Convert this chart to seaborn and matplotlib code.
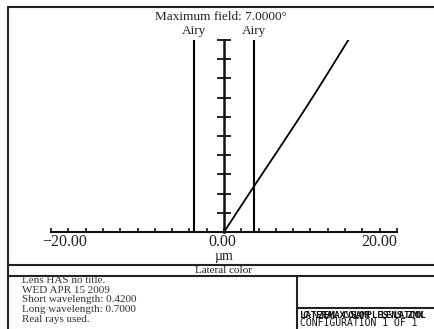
import numpy as np
import matplotlib
matplotlib.use("Agg")
import matplotlib.pyplot as plt
import seaborn as sns

# lateral color vs field
field_deg = [0.0, 0.7, 1.4, 2.1, 2.8, 3.5, 4.2, 4.9, 5.6, 6.3, 7.0]
lateral_um = [0.0, 1.45, 2.91, 4.38, 5.86, 7.33, 8.79, 10.22, 11.62, 13.0, 14.37]
airy_um = 3.45
field_max = 7.0
x_major = [-20, 0, 20]
x_labels = ["\u221220.00", "0.00", "20.00"]
info_lines = [
    "Lens HAS no title.",
    "WED APR 15 2009",
    "Short wavelength: 0.4200",
    "Long wavelength: 0.7000",
    "Real rays used.",
]

sns.set_theme(style="white")
plt.rcParams["font.family"] = ["Liberation Serif", "DejaVu Serif"]

W, H = 435, 329
fig = plt.figure(figsize=(W / 100, H / 100), dpi=100)
fig.patch.set_facecolor("white")

# background layer in pixel coords for the frame and text blocks
bg = fig.add_axes([0, 0, 1, 1])
bg.set_xlim(0, W)
bg.set_ylim(H, 0)
bg.axis("off")
lw = 1.5
bg.plot([8, W], [7, 7], color="#222", lw=lw)
bg.plot([8, 8], [7, H], color="#222", lw=lw)
bg.plot([8, W], [265, 265], color="#222", lw=lw)
bg.plot([8, W], [276, 276], color="#222", lw=lw)
bg.plot([297, 297], [276, H], color="#222", lw=lw)
bg.plot([297, W], [308, 308], color="#222", lw=lw)

bg.text(221, 17, f"Maximum field: {field_max:.4f}\u00b0", ha="center", va="center",
        fontsize=9.5, color="#222")
bg.text(224, 270.5, "Lateral color", ha="center", va="center", fontsize=8, color="#222")
for i, line in enumerate(info_lines):
    bg.text(22, 280.5 + i * 9.7, line, ha="left", va="center", fontsize=8, color="#333")
# overprinted file/plot name line, as in the original stroke-font output
bg.text(300, 315, "LATERAL COLOR  LENS.ZMX", ha="left", va="center",
        fontsize=6.5, family="DejaVu Sans Mono", weight="bold", color="#111")
bg.text(302, 315, "C:\\ZEMAX\\SAMPLES\\LATCOL", ha="left", va="center",
        fontsize=6.5, family="DejaVu Sans Mono", weight="bold", color="#111")
bg.text(300, 323.5, "CONFIGURATION 1 OF 1", ha="left", va="center",
        fontsize=7, family="DejaVu Sans Mono", color="#111")

# main plot
ax = fig.add_axes([51 / W, 1 - 232 / H, 346 / W, 192 / H])
ax.set_facecolor("none")
ax.set_xlim(-20, 20)
ax.set_ylim(0, field_max)
sns.lineplot(x=lateral_um, y=field_deg, ax=ax, sort=False, estimator=None,
             color="black", lw=1.3)
ax.vlines([-airy_um, airy_um], 0, field_max, color="black", lw=1.5)
for xa in (-airy_um, airy_um):
    ax.annotate("Airy", (xa, field_max), xytext=(0, 2), textcoords="offset points",
                ha="center", va="bottom", fontsize=9.5, color="#222")

for s in ("top", "right"):
    ax.spines[s].set_visible(False)
ax.spines["left"].set_position(("data", 0))
ax.spines["left"].set_linewidth(1.8)
ax.spines["bottom"].set_linewidth(1.5)
ax.spines["left"].set_color("#111")
ax.spines["bottom"].set_color("#111")

ax.set_xticks(np.arange(-20, 21, 2))
ax.set_xticklabels([])
ax.tick_params(axis="x", direction="in", length=3, width=1.2, color="#111", bottom=True)
ax.set_yticks(np.arange(0, field_max + 0.01, field_max / 10))
ax.set_yticklabels([])
ax.tick_params(axis="y", direction="inout", length=10, width=1.3, color="#111", left=True)

aligns = ["left", "center", "right"]
offsets = [-6, -1.5, 0]
for xv, lbl, ha, dx in zip(x_major, x_labels, aligns, offsets):
    ax.annotate(lbl, (xv, 0), xytext=(dx, -7.5), textcoords="offset points",
                ha=ha, va="center", fontsize=11.5, color="#222")
ax.annotate("\u00b5m", (0, 0), xytext=(0, -17.5), textcoords="offset points",
            ha="center", va="center", fontsize=10, color="#222")

fig.savefig("out.png", dpi=100)
